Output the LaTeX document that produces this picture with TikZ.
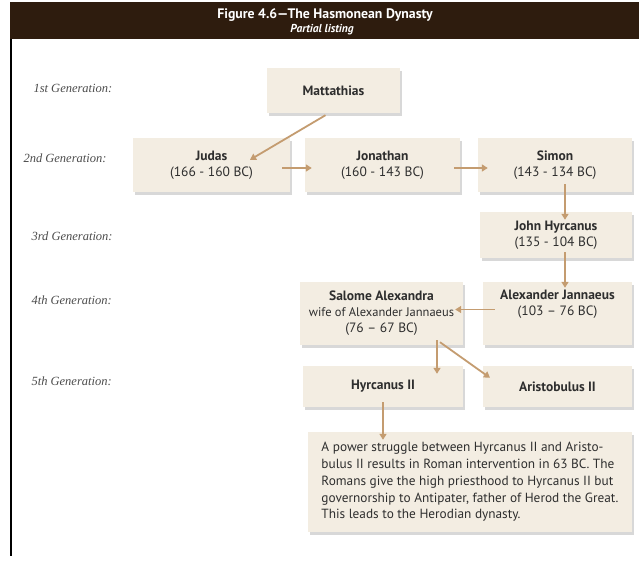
\documentclass[tikz,border=0pt]{standalone}
\usepackage{fontspec}
\setmainfont{PT Sans}
\newfontfamily\genfont{Liberation Serif}
\usetikzlibrary{arrows.meta,calc,shadows}
\definecolor{hdr}{HTML}{2E1C0E}
\definecolor{boxfill}{HTML}{F3EDE2}
\definecolor{arrc}{HTML}{C49C70}
\definecolor{txt}{HTML}{2E2E2E}
\begin{document}
\begin{tikzpicture}[x=1pt,y=-1pt,
 famb/.style={fill=boxfill, drop shadow={shadow xshift=2pt,shadow yshift=-3pt,fill=black!30}, font=\fontsize{13.5}{16}\selectfont, text=txt, align=center, inner sep=0pt},
 link/.style={draw=arrc, line width=1.8pt, -{Triangle[width=7pt,length=6pt]}},
 gen/.style={anchor=west, font=\genfont\itshape\fontsize{12.5}{14}\selectfont, text=black!70}
]
\useasboundingbox (0,0) rectangle (639,561);
\fill[white] (0,0) rectangle (639,561);
% header
\node[fill=hdr, minimum width=629pt, minimum height=37pt, anchor=north west, inner sep=0pt] (hdr) at (10,2) {};
\node[text=white, font=\bfseries\fontsize{13.8}{15}\selectfont] (title) at (325,15) {Figure 4.6—The Hasmonean Dynasty};
\node[text=white, font=\bfseries\itshape\fontsize{11.5}{13}\selectfont] (sub) at (322,30) {Partial listing};
\coordinate (lb) at (11,556);
\draw[line width=1.2pt] (hdr.south west -| lb) -- (lb);
% generation labels
\node[gen] (g1) at (30,88) {1st Generation:};
\node[gen] (g2) at (20,158) {2nd Generation:};
\node[gen] (g3) at (28,236) {3rd Generation:};
\node[gen] (g4) at (28,300) {4th Generation:};
\node[gen] (g5) at (28,381) {5th Generation:};
% boxes
\node[famb, minimum width=133pt, minimum height=45pt] (mat) at (333.5,90.5) {\bfseries Mattathias};
\node[famb, minimum width=157pt, minimum height=54pt] (judas) at (211.5,165) {{\bfseries Judas}\\(166 - 160 BC)};
\node[famb, minimum width=155pt, minimum height=54pt] (jon) at (382.5,165) {{\bfseries Jonathan}\\(160 - 143 BC)};
\node[famb, minimum width=154pt, minimum height=54pt] (simon) at (555,165) {{\bfseries Simon}\\(143 - 134 BC)};
\node[famb, minimum width=152pt, minimum height=46pt] (john) at (556,235) {{\bfseries John Hyrcanus}\\(135 - 104 BC)};
\node[famb, minimum width=163pt, minimum height=63pt] (salome) at (381.5,313.5) {{\bfseries Salome Alexandra}\\{\fontsize{12.5}{16}\selectfont wife of Alexander Jannaeus}\\(76 – 67 BC)};
\node[famb, minimum width=149pt, minimum height=63pt] (alex) at (557.5,313.5) {{\bfseries Alexander Jannaeus}\\(103 – 76 BC)\\\strut};
\node[famb, minimum width=160pt, minimum height=41pt] (hyr) at (383,386.5) {\bfseries Hyrcanus II};
\node[famb, minimum width=149pt, minimum height=41pt] (aris) at (557.5,386.5) {\bfseries Aristobulus II};
\node[famb, minimum width=324pt, minimum height=100pt, align=left, font=\fontsize{13.3}{16.8}\selectfont] (note) at (470,482) {A power struggle between Hyrcanus II and Aristo-\\bulus II results in Roman intervention in 63 BC. The\\Romans give the high priesthood to Hyrcanus II but\\governorship to Antipater, father of Herod the Great.\\This leads to the Herodian dynasty.};
% connectors
\draw[link] ($(mat.south)+(-8,2)$) -- ($(judas.north)+(38.5,22)$);
\draw[link] ($(judas.east)+(-8,3)$) -- ($(jon.west)+(7,3)$);
\draw[link] ($(jon.east)+(-6,3)$) -- ($(simon.west)+(10,3)$);
\draw[link] ($(simon.south)+(10,-8)$) -- ($(john.north)+(9,8)$);
\draw[link] ($(john.south)+(9,-6)$) -- ($(alex.north)+(7.5,6)$);
\draw[link] ($(alex.west)+(12,-4)$) -- ($(salome.east)+(-8,-4)$);
\draw[link] ($(salome.south)+(55.5,-5)$) -- ($(hyr.north)+(54,8)$);
\draw[link] ($(salome.south)+(58.5,-3)$) -- ($(aris.north)+(-67.5,12)$);
\draw[link] ($(hyr.south)+(0,-5)$) -- ($(note.north)+(-87,8)$);
\end{tikzpicture}
\end{document}
